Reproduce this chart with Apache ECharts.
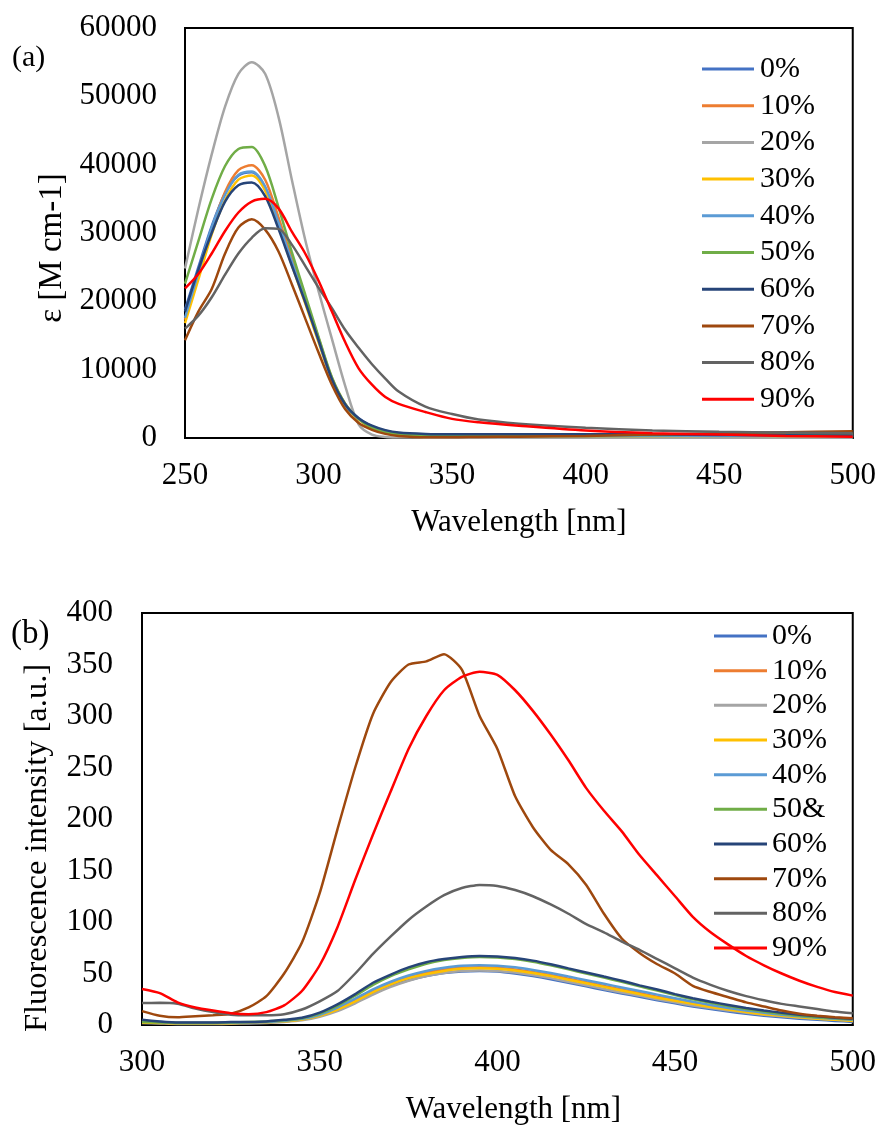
<!DOCTYPE html>
<html><head><meta charset="utf-8">
<script src="https://cdn.jsdelivr.net/npm/echarts@6/dist/echarts.min.js"></script>
<style>html,body{margin:0;padding:0;background:#fff}#c{width:879px;height:1126px}</style>
</head><body><div id="c"></div>
<script>
// ---------- data ----------
const uvNames = ['0%','10%','20%','30%','40%','50%','60%','70%','80%','90%'];
const fluoNames = ['0%','10%','20%','30%','40%','50&','60%','70%','80%','90%'];
const colors = ['#4472C4','#ED7D31','#A5A5A5','#FFC000','#5B9BD5','#70AD47','#264478','#9E480E','#636363','#FF0000'];

// (a) absorption: wavelength [nm]
const uvX = [250,255,260,265,270,275,280,285,290,295,300,305,310,315,320,325,330,340,350,360,375,400,425,450,475,500];
const uv0  = [18800,25000,31000,35800,38400,38900,36600,31200,25600,20300,14500,8600,4900,2900,1700,1050,700,450,350,300,280,270,280,320,360,400];
const uv10 = [17300,23800,30500,36000,39200,39900,37800,32300,26300,20500,14600,8800,5000,2800,1500,850,500,300,250,220,220,250,300,350,400,450];
const uv20 = [24800,33500,41500,48500,53300,55000,53300,47000,37800,29000,21500,14500,7600,2000,500,150,80,50,50,50,50,50,50,50,50,50];
const uv30 = [16800,23200,29800,34800,37800,38400,36200,31000,25300,19700,14000,8400,4700,2700,1500,850,500,300,250,200,200,220,250,280,300,320];
const uv40 = [17600,24200,30800,35600,38500,39000,36800,31500,25800,20200,14300,8500,4800,2800,1600,900,550,350,280,250,250,260,280,300,320,350];
const uv50 = [22600,28800,35000,39800,42300,42600,39800,33800,27200,21000,14800,8900,5000,2800,1500,850,500,350,300,300,350,400,450,500,550,600];
const uv60 = [18500,24600,30000,34600,37000,37400,35400,30600,25200,19900,14300,8600,4900,2900,1800,1150,800,600,550,550,550,550,500,450,400,350];
const uv70 = [14300,18500,21800,27000,30800,32000,30500,27300,22500,17500,12500,7800,4200,2200,1200,600,300,100,100,150,200,300,500,700,850,1000];
const uv80 = [16000,17900,20600,23900,27000,29300,30700,30600,28300,25200,22000,19000,15800,13200,10800,8700,6800,4600,3500,2700,2100,1500,1100,900,800,700];
const uv90 = [21900,24000,27000,30300,33000,34600,35000,33600,30200,27000,23000,18500,14000,10200,7800,6000,5000,3800,2800,2300,1800,1100,700,500,300,200];
const uvValues = [uv0,uv10,uv20,uv30,uv40,uv50,uv60,uv70,uv80,uv90];
const uvYTicks = {min:0, max:60000, interval:10000};
const uvXTicks = {min:250, max:500, interval:50};

// (b) fluorescence: wavelength [nm]
const fluoX = [300,305,310,315,320,325,330,335,340,345,350,355,360,365,370,375,380,385,390,395,400,405,410,415,420,425,430,435,440,445,450,455,460,465,470,475,480,485,490,495,500];
const fl0  = [4,3,2,2,2,2,2.5,3,3.5,5.5,9,15,22.5,31,38,43.5,47.5,50.5,52,52.5,52,50,47.5,44.5,41,37.5,34,30.5,27.5,24,21,18,15.5,13,11,9,7.5,6,5,4,3];
const fl10 = [3,2.5,2,2,2,2.2,2.6,3,4,6,10,16.5,24.5,33.5,41,47,51,54,55.5,56,55.5,54,51.5,48.5,45,41.5,38,34.5,31,27.5,24.5,21,18,15.5,13,11,9.5,8,6.5,5.5,4.5];
const fl20 = [2,1.5,1,1,1,1.2,1.5,2,3,4.5,8,13.5,21,29.5,37,43,47.5,50.5,52.5,53,52.5,51,48.5,45.5,42,38.5,35,31.5,28.5,25,22,19,16.5,14,12,10,8.5,7,6,5,4];
const fl30 = [2.5,2,1.5,1.5,1.5,1.8,2.2,2.7,3.5,5.3,9,15,23,32,39.5,45.5,49.5,52.5,54.5,55,54.5,53,50.5,47.5,44,40.5,37,33.5,30,26.5,23.5,20.5,17.5,15,12.5,10.5,9,7.5,6,5,4];
const fl40 = [4,3,2,2,2,2.3,2.7,3,4,6,10,17,25.5,34.5,42,48,52.5,55.5,57.5,58,57.5,56,53.5,50.5,47,43.5,40,36.5,33,29.5,26,22.5,19.5,16.5,14,12,10,8.5,7,6,5];
const fl50 = [3,2.5,2,2,2,2.5,3,3.5,4.5,6.5,11,18.5,28.5,39,47.5,54,59.5,63,65,66,65.5,64,61.5,58,54,50,46,42,37.5,33.5,29,25,21.5,18.5,15.5,13,11,9,7.5,6.5,5.5];
const fl60 = [5,3.5,2.5,2.5,2.5,2.8,3,3.5,5,7,12,20,30,41,49,56,61,64,66,67,66.5,65,62.5,59,55,51,47,43,38.5,34.5,30,26,22.5,19.5,16.5,14,12,10,8.5,7,6];
const fl70 = [13.5,9,7.5,8.5,9.5,11,17,28,50,80,128,190,250,302,333,350,353,360,345,300,268,222,192,170,156,136,108,84,70,59,50,38,32,27,22,18,14,11,9,7.5,6.5];
const fl80 = [21.4,21.5,20.5,16,12.5,10,9.5,9.5,10.5,15,23,33,50,69,86,102,115,126,133,136,135,131,125,117,108,98,90,81,73,64,55,46,39,33,28,24,20.5,18,15.5,13,11.3];
const fl90 = [35,31,22,17,14,11.5,10.5,12.5,19,33,58,95,141,185,227,268,300,325,338,343,340,325,305,282,257,230,208,188,165,145,125,105,90,78,67,58,50,43,37,32,28.5];
const fluoValues = [fl0,fl10,fl20,fl30,fl40,fl50,fl60,fl70,fl80,fl90];
const fluoYTicks = {min:0, max:400, interval:50};
const fluoXTicks = {min:300, max:500, interval:50};

// ---------- chart ----------
const FONT = "'Liberation Serif','Times New Roman',serif";
const txt = (fs, extra) => Object.assign({color:'#000', fontFamily:FONT, fontSize:fs}, extra || {});
const plain = v => String(v);

function valueAxis(idx, ticks, extra){
  return Object.assign({
    type:'value', gridIndex:idx, min:ticks.min, max:ticks.max, interval:ticks.interval,
    axisLine:{show:true, lineStyle:{color:'#000', width:2}},
    axisTick:{show:false}, splitLine:{show:false}
  }, extra);
}

const series = [];
uvValues.forEach((arr,i)=>{
  series.push({type:'line', name:uvNames[i], xAxisIndex:0, yAxisIndex:0, symbol:'none', smooth:0.3,
    lineStyle:{width:2.5, color:colors[i]}, itemStyle:{color:colors[i]},
    data: uvX.map((x,k)=>[x, arr[k]])});
});
fluoValues.forEach((arr,i)=>{
  series.push({type:'line', name:fluoNames[i], xAxisIndex:1, yAxisIndex:1, symbol:'none', smooth:0.2,
    lineStyle:{width:2.5, color:colors[i]}, itemStyle:{color:colors[i]},
    data: fluoX.map((x,k)=>[x, arr[k]])});
});

const chart = echarts.init(document.getElementById('c'), null, {renderer:'canvas'});
chart.setOption({
  animation:false,
  backgroundColor:'#fff',
  title:[
    {text:'(a)', left:12, top:43, padding:0, textStyle:txt(30, {fontWeight:'normal'})},
    {text:'(b)', left:11, top:618, padding:0, textStyle:txt(33, {fontWeight:'normal'})}
  ],
  grid:[
    {left:185, top:28, width:668, height:410, show:true, borderColor:'#000', borderWidth:2, backgroundColor:'transparent'},
    {left:142, top:613, width:711, height:424, show:true, borderColor:'#000', borderWidth:2, backgroundColor:'transparent'}
  ],
  xAxis:[
    valueAxis(0, uvXTicks, {name:'Wavelength [nm]', nameLocation:'middle', nameGap:69,
      axisLabel:txt(31, {formatter:plain, margin:22}), nameTextStyle:txt(31)}),
    valueAxis(1, fluoXTicks, {name:'Wavelength [nm]', nameLocation:'middle', nameGap:69,
      axisLabel:txt(31, {formatter:plain, margin:22}), nameTextStyle:txt(31, {padding:[0,0,0,32]})})
  ],
  yAxis:[
    valueAxis(0, uvYTicks, {name:'ε [M cm-1]', nameLocation:'middle', nameGap:116,
      axisLabel:txt(31, {formatter:plain, margin:28}), nameTextStyle:txt(33, {padding:[0,30,0,0]})}),
    valueAxis(1, fluoYTicks, {name:'Fluorescence intensity [a.u.]', nameLocation:'middle', nameGap:88,
      axisLabel:txt(31, {formatter:plain, margin:29}), nameTextStyle:txt(32.5, {padding:[0,58,0,0]})})
  ],
  legend:[
    {data:uvNames, orient:'vertical', left:702, top:53.5, padding:0, icon:'rect', itemWidth:52, itemHeight:3, itemGap:5.7,
     textStyle:txt(30, {lineHeight:31, padding:[0,0,0,1]})},
    {data:fluoNames, orient:'vertical', left:714, top:621, padding:0, icon:'rect', itemWidth:53, itemHeight:3, itemGap:4.67,
     textStyle:txt(30, {lineHeight:30})}
  ],
  series: series
});
</script>
</body></html>
